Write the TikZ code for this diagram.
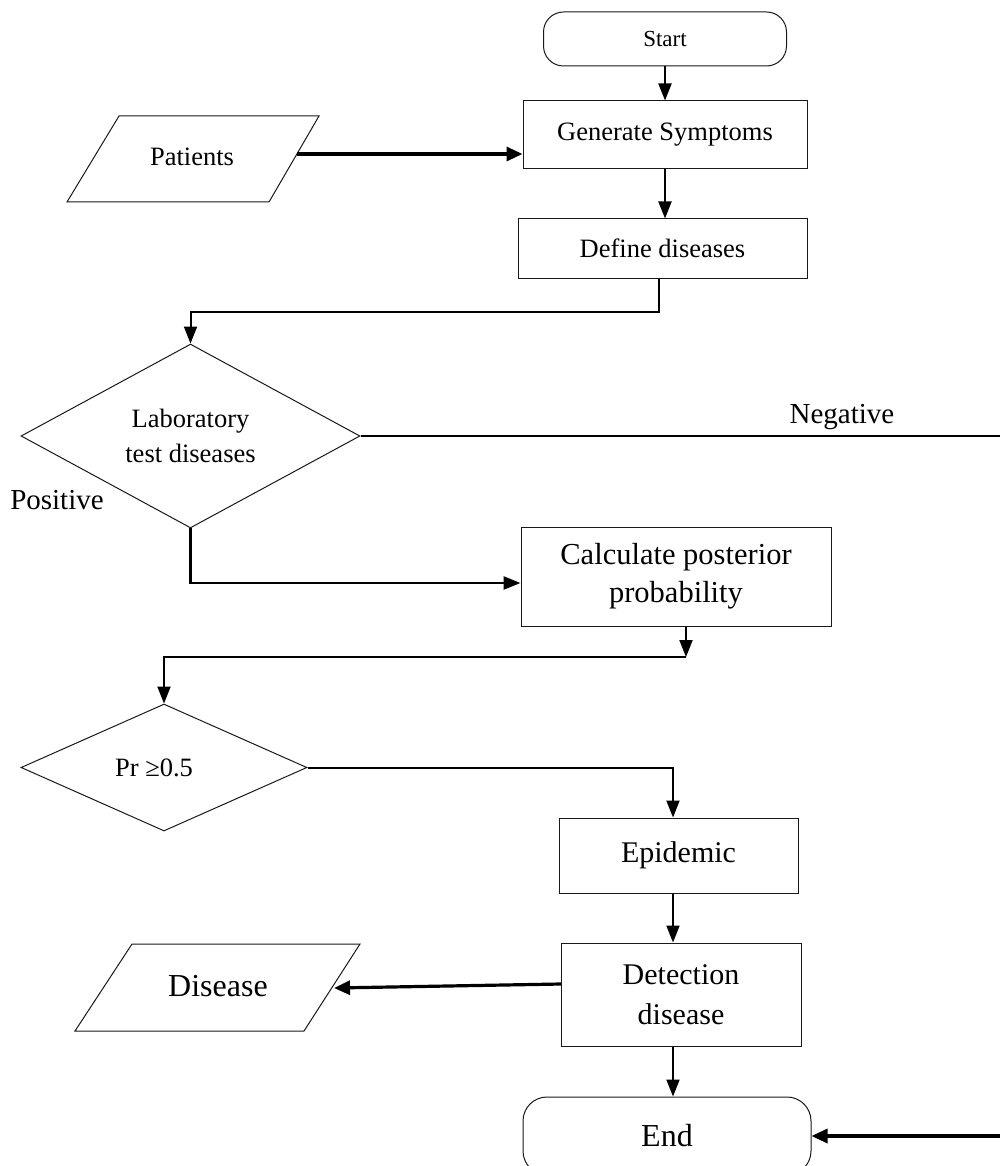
\documentclass[tikz,border=0pt]{standalone}
\usepackage{fontspec}
\setmainfont{Liberation Serif}
\usetikzlibrary{arrows.meta,shapes.geometric,calc}
\begin{document}
\begin{tikzpicture}[x=1pt,y=-1pt,
  box/.style={draw=black!90, line width=1pt, rectangle, inner sep=0pt, align=center},
  term/.style={box, rounded corners=20pt},
  dec/.style={draw=black!90, line width=1pt, diamond, inner sep=0pt, align=center},
  io/.style={draw=black!90, line width=1pt},
  con/.style={line width=2pt, -{Triangle[length=17pt,width=13pt]}},
  conthick/.style={line width=3.2pt, -{Triangle[length=16pt,width=14pt]}},
  plain/.style={line width=2pt},
  fs/.style={font=\fontsize{23}{28}\selectfont},
  fm/.style={font=\fontsize{26.5}{35}\selectfont},
  fl/.style={font=\fontsize{30}{39}\selectfont},
  fx/.style={font=\fontsize{32}{38}\selectfont}
]
\path[use as bounding box] (0,0) rectangle (1000,1166);
\clip (0,0) rectangle (1000,1166);

% nodes
\node[term, fs, minimum width=243pt, minimum height=54pt] (start) at (665,39) {Start};
\node[box, fm, minimum width=284pt, minimum height=68pt] (gen) at (665,135) {Generate Symptoms};
\node[box, fm, minimum width=289pt, minimum height=59pt] (def) at (662.5,248.5) {Define diseases};
\node[dec, fm, minimum width=339pt, minimum height=171pt] (d1) at (190.5,436) {Laboratory\\test diseases};
\node[box, font=\fontsize{30.5}{38}\selectfont, minimum width=310pt, minimum height=99pt] (calc) at (676,576.5) {Calculate posterior\\probability};
\node[dec, fm, minimum width=286pt, minimum height=127pt] (d2) at (164,767.5) {Pr \symbol{"2265}0.5\hspace*{20pt}};
\node[box, fl, minimum width=239pt, minimum height=75pt] (epi) at (678.5,855.5) {Epidemic};
\node[box, font=\fontsize{30}{40}\selectfont, minimum width=240pt, minimum height=103pt] (det) at (681,994.5) {Detection\\disease};
\node[term, fx, rounded corners=24pt, minimum width=288pt, minimum height=78pt] (endn) at (667,1136) {End};

% parallelograms
\draw[io] (119,116) -- (319,116) -- (269,202) -- (67,202) -- cycle;
\node[fm] (pat) at (192,157) {Patients};
\draw[io] (132,944) -- (360,944) -- (304,1031) -- (75,1031) -- cycle;
\node[fx] (dis) at (218,986) {Disease};

% labels
\node[font=\fontsize{29}{35}\selectfont] (neg) at (842,417) {Negative};
\node[font=\fontsize{29}{35}\selectfont] (pos) at (57,500) {Positive};

% helper coordinates
\coordinate (patR) at (297,154);
\coordinate (defB) at (659,312);
\coordinate (c1) at (686,657);
\coordinate (colx) at (673,0);
\coordinate (negR) at (1012,0);
\coordinate (detW) at (561,984);
\coordinate (disR) at (334,988);

% connectors
\draw[con] (start.south) -- (gen.north);
\draw[conthick] (patR) -- (patR -| gen.west);
\draw[con] (gen.south) -- (gen.south |- def.north);
\draw[con] (defB |- def.south) -- (defB) -| (d1.north);
\draw[plain] (d1.east) -- (d1.east -| negR) -- (negR |- endn.east);
\draw[conthick] (negR |- endn.east) -- (endn.east);
\draw[con, line width=2.5pt] (d1.south) |- ($(calc.west)+(0,6.5)$);
\draw[con] (calc.south -| c1) -- (c1);
\draw[plain, -{Triangle[length=17pt,width=13pt]}] (c1) -| (d2.north);
\draw[con] (d2.east) -| (colx |- epi.north);
\draw[con] (colx |- epi.south) -- (colx |- det.north);
\draw[conthick] (detW) -- (disR);
\draw[con] (colx |- det.south) -- (colx |- endn.north);
\end{tikzpicture}
\end{document}
